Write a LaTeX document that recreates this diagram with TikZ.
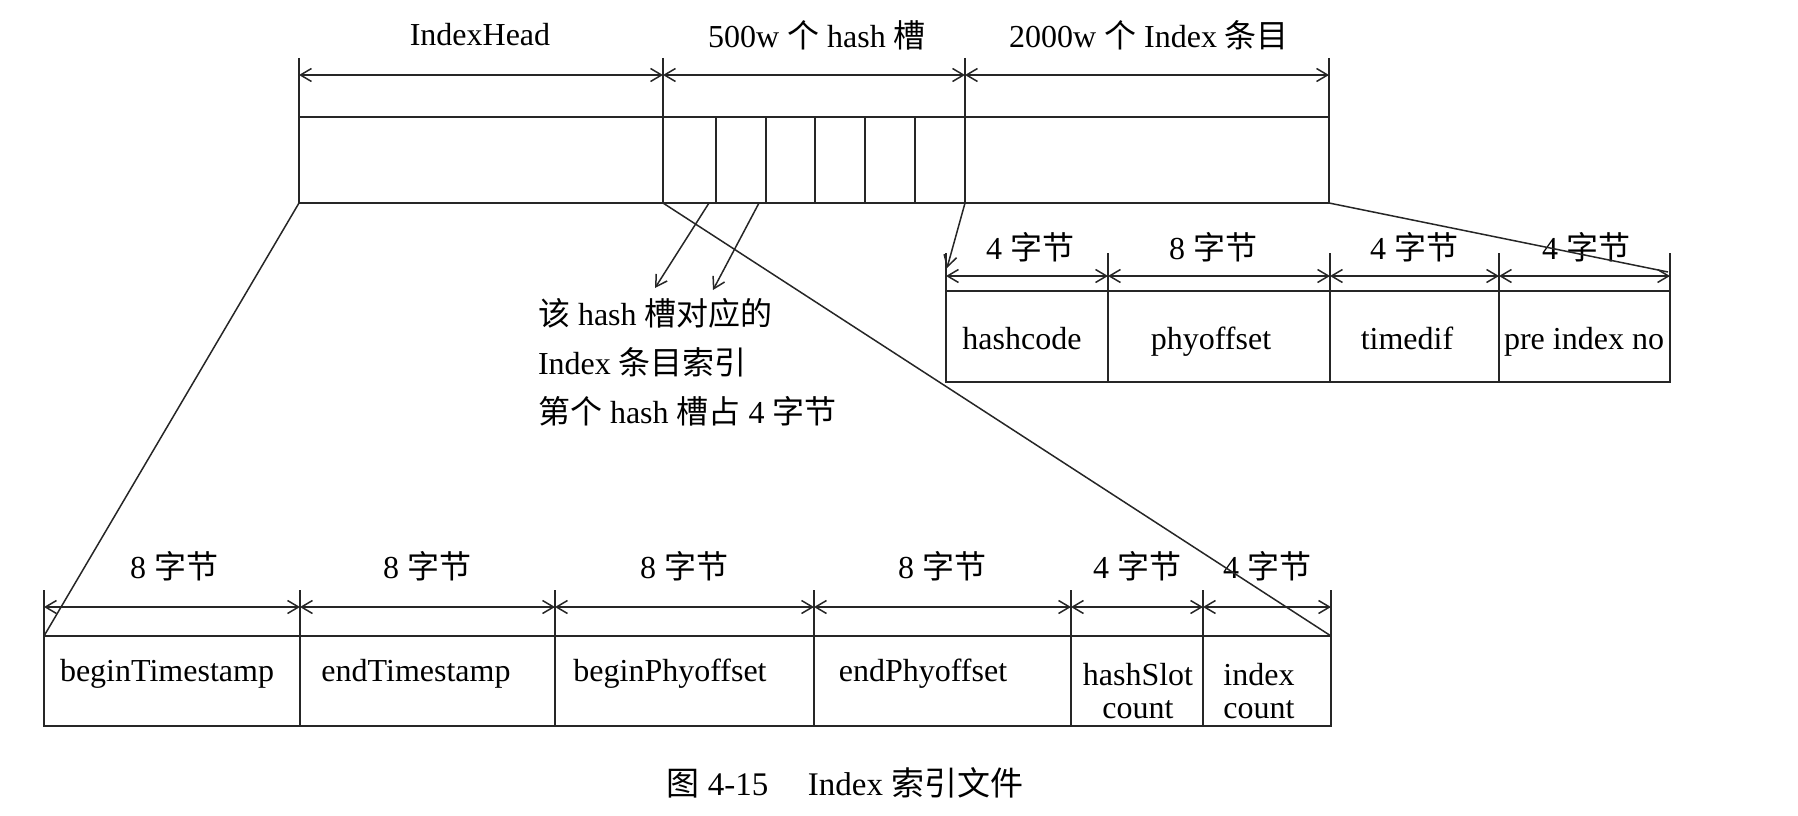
\documentclass[tikz,border=0pt]{standalone}
\usepackage{fontspec}
\setmainfont{Liberation Serif}
\newfontfamily\zhfont{Noto Sans CJK SC}
\newcommand\zh[1]{{\zhfont #1}}
\usetikzlibrary{arrows.meta}
\tikzset{
  barb/.tip={Straight Barb[length=11pt,width=13pt]},
  every node/.style={font=\fontsize{32}{33}\selectfont, inner sep=0pt, outer sep=0pt},
  ln/.style={line width=1.5pt, draw=black!85},
  dim/.style={ln, barb-barb},
  ptr/.style={ln, -barb},
  cell/.style={ln, draw, anchor=north west},
  celltext/.style={anchor=base},
  twoline/.style={align=center, font=\fontsize{32}{33.5}\selectfont},
}
\begin{document}
\begin{tikzpicture}[x=1pt,y=-1pt]
\useasboundingbox (0,0) rectangle (1798,816);

% ---------- top bar ----------
\node[cell, minimum width=364pt, minimum height=86pt] (ih) at (299,117) {};
\node[cell, minimum width=302pt, minimum height=86pt] (hr) at (663,117) {};
\node[cell, minimum width=364pt, minimum height=86pt] (ir) at (965,117) {};
\foreach \x in {716,766,815,865,915} \draw[ln] (\x,117) -- (\x,203);
\foreach \x in {299,663,965,1329} \draw[ln] (\x,58) -- (\x,117);
\draw[dim] (299,75) -- (663,75);
\draw[dim] (663,75) -- (965,75);
\draw[dim] (965,75) -- (1329,75);
\node (t1) at (480,35) {IndexHead};
\node (t2) at (817,35) {500w \zh{个} hash \zh{槽}};
\node (t3) at (1149,35) {2000w \zh{个} Index \zh{条目}};

% ---------- right table ----------
\node[cell, minimum width=162pt, minimum height=91pt] (hc) at (946,291) {};
\node[cell, minimum width=222pt, minimum height=91pt] (po) at (1108,291) {};
\node[cell, minimum width=169pt, minimum height=91pt] (td) at (1330,291) {};
\node[cell, minimum width=171pt, minimum height=91pt] (pn) at (1499,291) {};
\node[celltext] (hc-t) at (1022,349) {hashcode};
\node[celltext] (po-t) at (1211,349) {phyoffset};
\node[celltext] (td-t) at (1407,349) {timedif};
\node[celltext] (pn-t) at (1584,349) {pre index no};
\foreach \x in {946,1108,1330,1499,1670} \draw[ln] (\x,253) -- (\x,291);
\draw[dim] (946,276) -- (1108,276);
\draw[dim] (1108,276) -- (1330,276);
\draw[dim] (1330,276) -- (1499,276);
\draw[dim] (1499,276) -- (1670,276);
\node (r1) at (1030,247) {4 \zh{字节}};
\node (r2) at (1213,247) {8 \zh{字节}};
\node (r3) at (1414,247) {4 \zh{字节}};
\node (r4) at (1586,247) {4 \zh{字节}};

% ---------- bottom table ----------
\node[cell, minimum width=256pt, minimum height=90pt] (bt) at (44,636) {};
\node[cell, minimum width=255pt, minimum height=90pt] (et) at (300,636) {};
\node[cell, minimum width=259pt, minimum height=90pt] (bp) at (555,636) {};
\node[cell, minimum width=257pt, minimum height=90pt] (ep) at (814,636) {};
\node[cell, minimum width=132pt, minimum height=90pt] (hs) at (1071,636) {};
\node[cell, minimum width=128pt, minimum height=90pt] (ic) at (1203,636) {};
\node[celltext] (bt-t) at (167,681) {beginTimestamp};
\node[celltext] (et-t) at (416,681) {endTimestamp};
\node[celltext] (bp-t) at (670,681) {beginPhyoffset};
\node[celltext] (ep-t) at (923,681) {endPhyoffset};
\node[twoline] (hs-t) at (1138,691) {hashSlot\\count};
\node[twoline] (ic-t) at (1259,691) {index\\count};
\foreach \x in {44,300,555,814,1071,1203,1331} \draw[ln] (\x,590) -- (\x,636);
\draw[dim] (44,607) -- (300,607);
\draw[dim] (300,607) -- (555,607);
\draw[dim] (555,607) -- (814,607);
\draw[dim] (814,607) -- (1071,607);
\draw[dim] (1071,607) -- (1203,607);
\draw[dim] (1203,607) -- (1331,607);
\node (b1) at (174,566) {8 \zh{字节}};
\node (b2) at (427,566) {8 \zh{字节}};
\node (b3) at (684,566) {8 \zh{字节}};
\node (b4) at (942,566) {8 \zh{字节}};
\node (b5) at (1137,566) {4 \zh{字节}};
\node (b6) at (1267,566) {4 \zh{字节}};

% ---------- connectors ----------
\coordinate (rend) at (1668,272);
\coordinate (ipt) at (947,268);
\coordinate (h1) at (709,203);
\coordinate (h1t) at (655,288);
\coordinate (h2) at (759,203);
\coordinate (h2t) at (713,290);
\draw[ln] (ih.south west) -- (bt.north west);
\draw[ln] (hr.south west) -- (ic.north east);
\draw[ln] (ir.south east) -- (rend);
\draw[ptr] (ir.south west) -- (ipt);
\draw[ptr] (h1) -- (h1t);
\draw[ptr] (h2) -- (h2t);

% ---------- note ----------
\node[anchor=west, align=left, font=\fontsize{32}{49}\selectfont] (note) at (538,362)
  {\zh{该} hash \zh{槽对应的}\\Index \zh{条目索引}\\\zh{第个} hash \zh{槽占} 4 \zh{字节}};

% ---------- caption ----------
\node[font=\fontsize{33}{36}\selectfont] (cap) at (845,783) {\zh{图} 4-15\hspace{1.2em}Index \zh{索引文件}};
\end{tikzpicture}
\end{document}
